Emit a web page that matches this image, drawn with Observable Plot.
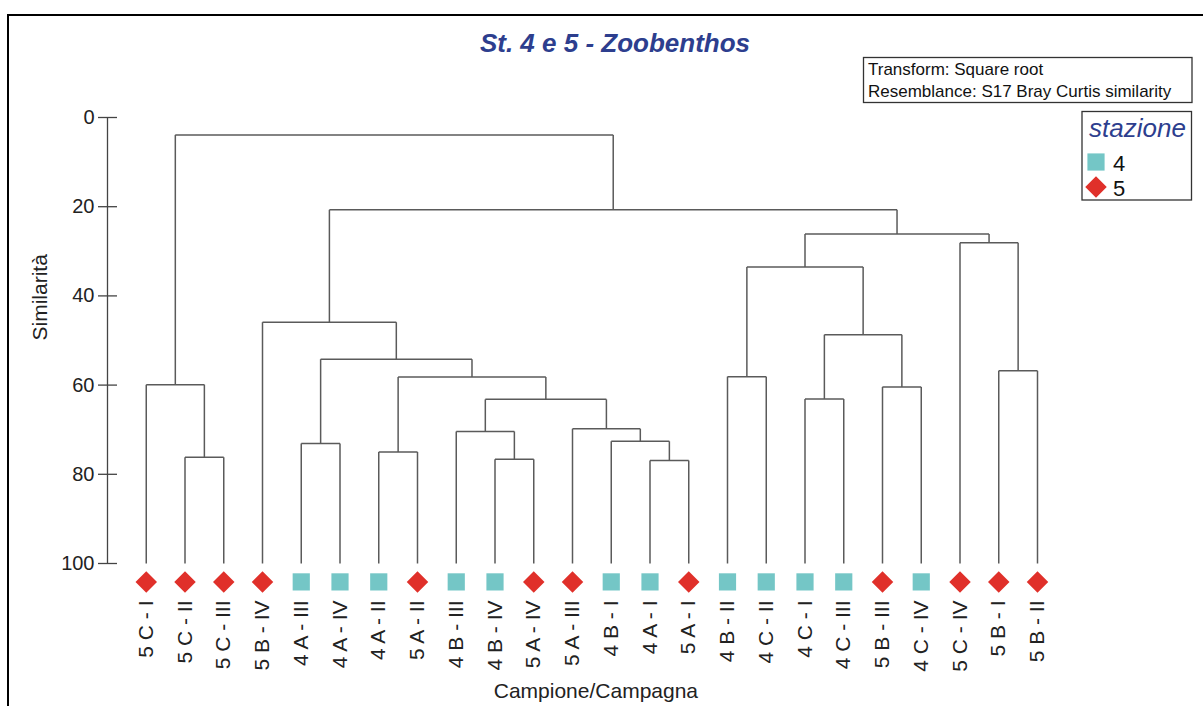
<!DOCTYPE html>
<html>
<head>
<meta charset="utf-8">
<script src="https://cdn.jsdelivr.net/npm/d3@7"></script>
<script src="https://cdn.jsdelivr.net/npm/@observablehq/plot@0.6"></script>
<style>
  body { margin: 0; background: #fff; font-family: "Liberation Sans", Arial, sans-serif; }
  #wrap { position: relative; width: 1203px; height: 706px; overflow: hidden; background: #fff; }
  #chart { position: absolute; left: 0; top: 0; }
  #overlay { position: absolute; left: 0; top: 0; pointer-events: none; }
  #border { position: absolute; left: 7px; top: 14px; width: 1300px; height: 800px;
            border-top: 2px solid #000; border-left: 2px solid #000; }
</style>
</head>
<body>
<div id="wrap">
  <div id="border"></div>
  <div id="chart"></div>
  <svg id="overlay" width="1203" height="706"></svg>
</div>
<script>
// ---- data ----
const titleText = "St. 4 e 5 - Zoobenthos";
const infoLines = ["Transform: Square root", "Resemblance: S17 Bray Curtis similarity"];
const legendTitle = "stazione";
const stationNames = ["4", "5"];
const stationColors = ["#74c6c6", "#e0302a"];
const stationSymbols = ["square", "diamond2"];
const yTicks = [0, 20, 40, 60, 80, 100];
const yLabel = "Similarità";
const xLabel = "Campione/Campagna";

const leafLabels = ["5 C - I", "5 C - II", "5 C - III", "5 B - IV", "4 A - III", "4 A - IV",
  "4 A - II", "5 A - II", "4 B - III", "4 B - IV", "5 A - IV", "5 A - III", "4 B - I", "4 A - I",
  "5 A - I", "4 B - II", "4 C - II", "4 C - I", "4 C - III", "5 B - III", "4 C - IV", "5 C - IV",
  "5 B - I", "5 B - II"];
const leafStation = ["5", "5", "5", "5", "4", "4", "4", "5", "4", "4", "5", "5", "4", "4",
  "5", "4", "4", "4", "4", "5", "4", "5", "5", "5"];

// agglomeration steps: children (leaf 0-23, step k creates node 24+k) and similarity level
const mergeLeft  = [1, 0, 4, 6, 9, 8, 13, 12, 11, 29, 27, 26, 3, 15, 17, 19, 38, 37, 22, 21, 41, 36, 25];
const mergeRight = [2, 24, 5, 7, 10, 28, 14, 30, 31, 32, 33, 34, 35, 16, 18, 20, 39, 40, 23, 42, 43, 44, 45];
const mergeSim   = [76.2, 59.9, 73.1, 75.0, 76.6, 70.4, 76.9, 72.6, 69.8, 63.2, 58.2, 54.2, 45.9,
  58.1, 63.1, 60.4, 48.7, 33.5, 56.8, 28.1, 26.1, 20.7, 3.9];

// ---- build tree geometry ----
const leafLevel = 100;
const pos = leafLabels.map((_, i) => i);
const lev = leafLabels.map(() => leafLevel);
const segments = [];
mergeLeft.forEach((l, k) => {
  const r = mergeRight[k], s = mergeSim[k];
  pos.push((pos[l] + pos[r]) / 2);
  lev.push(s);
  segments.push({x1: pos[l], x2: pos[r], y1: s, y2: s});
  segments.push({x1: pos[l], x2: pos[l], y1: lev[l], y2: s});
  segments.push({x1: pos[r], x2: pos[r], y1: lev[r], y2: s});
});
const leaves = leafLabels.map((label, i) => ({i, label, station: leafStation[i], level: leafLevel}));
const xDomain = [-1, leafLabels.length - 1];

const plot = Plot.plot({
  width: 1203,
  height: 706,
  marginLeft: 107,
  marginRight: 166,
  marginTop: 117,
  marginBottom: 143,
  style: {fontFamily: '"Liberation Sans", Arial, sans-serif', background: "transparent", overflow: "visible"},
  x: {domain: xDomain, axis: null},
  y: {domain: [0, 100], reverse: true, axis: null},
  color: {domain: stationNames, range: stationColors},
  symbol: {domain: stationNames, range: stationSymbols},
  marks: [
    Plot.ruleX([xDomain[0]], {stroke: "#444", strokeWidth: 1.3}),
    Plot.axisY({ticks: yTicks, tickSize: 19, dx: 10, tickPadding: 4, fontSize: 20,
      stroke: "#444", strokeWidth: 1.3, fill: "#222", label: null}),
    Plot.link(segments, {x1: "x1", y1: "y1", x2: "x2", y2: "y2", stroke: "#5a5a5a", strokeWidth: 1.5}),
    Plot.dot(leaves, {x: "i", y: "level", symbol: "station", fill: "station", r: 9.7, dy: 18.4, stroke: null}),
    Plot.text(leaves, {x: "i", y: "level", text: "label", rotate: -90, textAnchor: "end",
      lineAnchor: "middle", dy: 37, fontSize: 21, fill: "#222"}),
    Plot.text([yLabel], {frameAnchor: "left", rotate: -90, dx: -67, fontSize: 21, fill: "#222"}),
    Plot.text([xLabel], {x: () => d3.mean(leaves, d => d.i), y: () => leafLevel, dx: 4, dy: 128,
      fontSize: 21, fill: "#222"})
  ]
});
document.getElementById("chart").appendChild(plot);

// ---- title, info box and legend ----
const ov = d3.select("#overlay");
ov.append("text").attr("x", 615).attr("y", 52).attr("text-anchor", "middle")
  .attr("font-family", '"Liberation Sans", Arial, sans-serif').attr("font-size", 26)
  .attr("font-weight", "bold").attr("font-style", "italic").attr("fill", "#2d3e8e").text(titleText);

const info = ov.append("g");
info.append("rect").attr("x", 863.5).attr("y", 57.5).attr("width", 328.5).attr("height", 45)
  .attr("fill", "#fff").attr("stroke", "#333").attr("stroke-width", 1.3);
infoLines.forEach((t, i) => {
  info.append("text").attr("x", 868).attr("y", 74.5 + i * 22.3)
    .attr("font-family", '"Liberation Sans", Arial, sans-serif').attr("font-size", 17)
    .attr("fill", "#111").text(t);
});

const leg = ov.append("g");
leg.append("rect").attr("x", 1082).attr("y", 111.5).attr("width", 109.5).attr("height", 88.5)
  .attr("fill", "#fff").attr("stroke", "#333").attr("stroke-width", 1.3);
leg.append("text").attr("x", 1089).attr("y", 136.5)
  .attr("font-family", '"Liberation Sans", Arial, sans-serif').attr("font-size", 26)
  .attr("font-style", "italic").attr("fill", "#2d3e8e").text(legendTitle);
const symGen = {square: d3.symbolSquare, diamond2: d3.symbolDiamond2};
stationNames.forEach((s, i) => {
  const cy = 162 + i * 25;
  leg.append("path").attr("transform", `translate(1096,${cy})`)
    .attr("d", d3.symbol(symGen[stationSymbols[i]], Math.PI * 9.7 * 9.7)())
    .attr("fill", stationColors[i]);
  leg.append("text").attr("x", 1113).attr("y", cy + 8.5)
    .attr("font-family", '"Liberation Sans", Arial, sans-serif').attr("font-size", 22)
    .attr("fill", "#111").text(s);
});
</script>
</body>
</html>
